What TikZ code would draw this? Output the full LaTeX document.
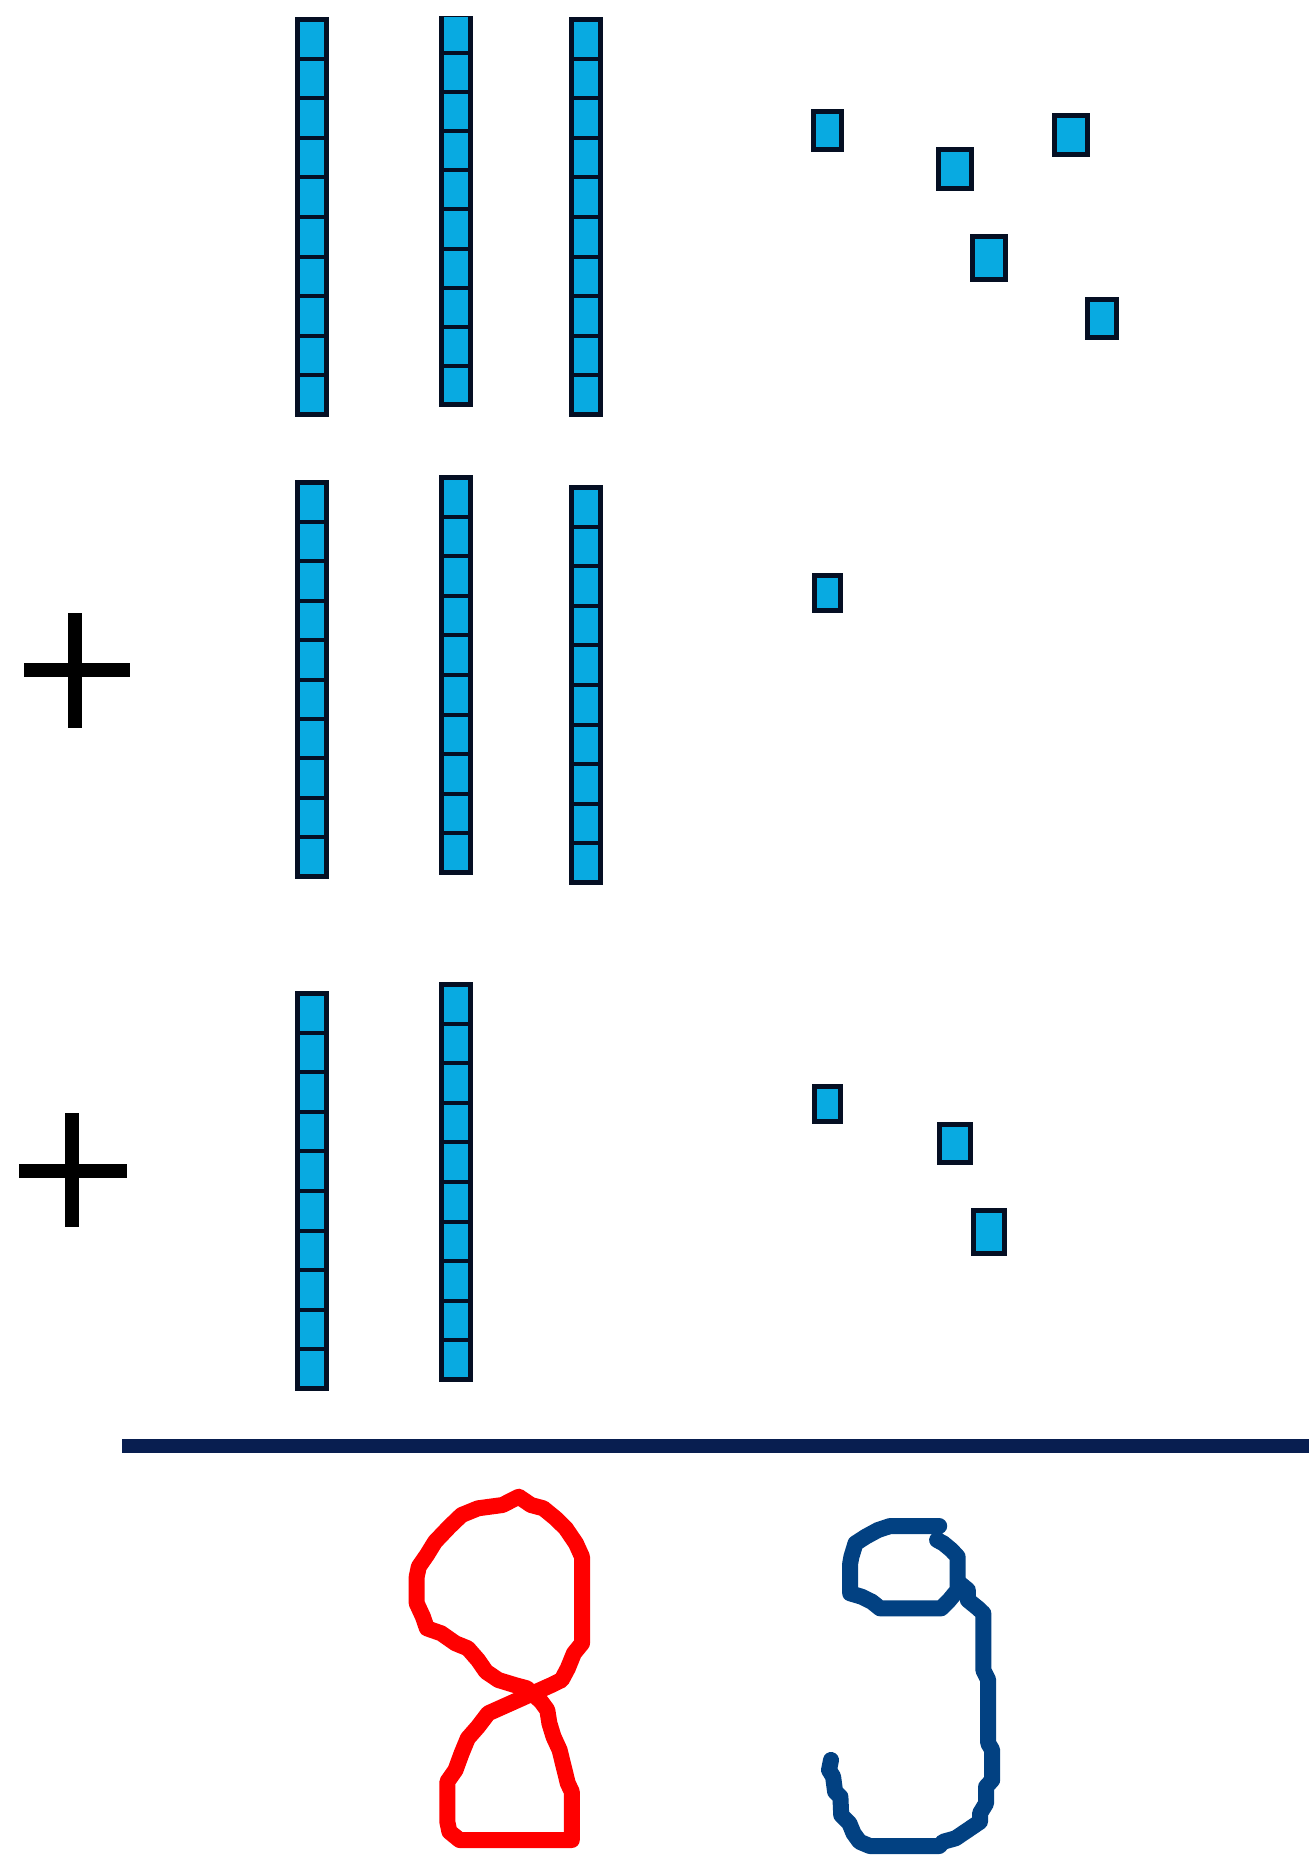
\documentclass[tikz,border=0pt]{standalone}
\definecolor{cubefill}{RGB}{8,170,225}
\definecolor{cubeedge}{RGB}{5,15,35}
\definecolor{rulenavy}{RGB}{8,30,80}
\definecolor{eightred}{RGB}{255,0,0}
\definecolor{nineblue}{RGB}{2,65,130}
\newcommand{\tenrod}[3]{%
  \draw[rodbox] (#1+2.4,#2+2.4) rectangle (#1+33.5-2.4,#3-2.4);
  \foreach \k in {1,...,9}{%
    \draw[rodsep] (#1+2.4,{#2+2.4+\k*(#3-#2-4.8)/10}) -- (#1+33.5-2.4,{#2+2.4+\k*(#3-#2-4.8)/10});}%
}
\newcommand{\unitblock}[4]{%
  \draw[unitcube] (#1+2.4,#2+2.4) rectangle (#3-2.4,#4-2.4);}
\begin{document}
\begin{tikzpicture}[x=0.5pt,y=-0.5pt,
  rodbox/.style={fill=cubefill,draw=cubeedge,line width=2.5pt},
  rodsep/.style={draw=cubeedge,line width=2pt},
  unitcube/.style={fill=cubefill,draw=cubeedge,line width=2.5pt},
  plusbar/.style={draw=black,line width=7pt},
  ruleline/.style={draw=rulenavy,line width=7pt},
  digitstroke/.style={line width=8pt,line cap=round,line join=round}]
\useasboundingbox[fill=white] (0,0) rectangle (1309,1855);

% first addend: 3 tens + 5 ones
\tenrod{295}{17}{417}
\begin{scope}
  \clip (0,17) rectangle (1309,1855);
  \tenrod{439}{12}{407}
\end{scope}
\tenrod{569}{17}{417}
\unitblock{811}{109}{844}{152}
\unitblock{936}{147}{974}{191}
\unitblock{1052}{113}{1090}{157}
\unitblock{970}{234}{1008}{282}
\unitblock{1085}{297}{1119}{340}

% second addend: 3 tens + 1 one
\coordinate (plusA) at (75,670);
\draw[plusbar] (24,670) -- (130,670);
\draw[plusbar] (75,613) -- (75,728);
\tenrod{295}{480}{879}
\tenrod{439}{475}{875}
\tenrod{569}{485}{885}
\unitblock{812}{573}{843}{613}

% third addend: 2 tens + 3 ones
\coordinate (plusB) at (72,1171);
\draw[plusbar] (19,1171) -- (127,1171);
\draw[plusbar] (72,1113) -- (72,1227);
\tenrod{295}{991}{1391}
\tenrod{439}{982}{1382}
\unitblock{812}{1084}{843}{1124}
\unitblock{937}{1122}{973}{1165}
\unitblock{971}{1208}{1007}{1256}

% sum rule
\coordinate (ruleL) at (122,1446);
\coordinate (ruleR) at (1309,1446);
\draw[ruleline] (ruleL) -- (ruleR);

% handwritten 8
\draw[digitstroke,draw=eightred]
  (518.8,1496.7) -- (502.4,1505) -- (478,1508.3) -- (461.6,1515) -- (449.4,1526.7)
  -- (435.1,1541.7) -- (426.9,1555) -- (418.8,1566.7) -- (416.7,1576.7) -- (416.7,1603.3)
  -- (422.9,1616.7) -- (426.9,1628.3) -- (441.2,1633.3) -- (455.5,1643.3) -- (467.8,1648.3)
  -- (478,1660) -- (486.1,1671.7) -- (498.4,1680) -- (514.7,1685) -- (526.9,1688.3)
  -- (541.2,1701.7) -- (547.3,1710) -- (549.4,1723.3) -- (553.5,1736.7) -- (559.6,1750)
  -- (563.7,1766.7) -- (567.8,1783.3) -- (571.8,1791.7) -- (571.8,1840) -- (459.6,1840)
  -- (449.4,1831.7) -- (447.3,1821.7) -- (447.3,1781.7) -- (455.5,1770) -- (461.6,1753.3)
  -- (467.8,1738.3) -- (478,1726.7) -- (488.2,1713.3) -- (551.4,1685) -- (561.6,1680)
  -- (567.8,1668.3) -- (573.9,1653.3) -- (582,1643.3) -- (582,1556.7) -- (575.9,1543.3)
  -- (565.7,1528.3) -- (555.5,1518.3) -- (543.3,1508.3) -- (531,1505) -- cycle;

% handwritten 9
\draw[digitstroke,draw=nineblue]
  (939.2,1526) -- (890.2,1526) -- (878,1530) -- (865.7,1536.7) -- (855.5,1543.3)
  -- (851.4,1556.7) -- (850.2,1563.3) -- (850.2,1593.3) -- (861.6,1596.7) -- (871.8,1601.7)
  -- (880,1608.3) -- (941.2,1608.3) -- (949.4,1600) -- (957.6,1590) -- (957.6,1556.7)
  -- (951.4,1550) -- (943.3,1543.3) -- (937.1,1540);
\draw[digitstroke,draw=nineblue]
  (959.6,1583.3) -- (967.8,1590) -- (967.8,1600) -- (978,1608.3) -- (983.3,1613.3)
  -- (983.3,1670) -- (988.2,1680) -- (988.2,1743.3) -- (992.2,1750) -- (992.2,1780)
  -- (986.1,1786.7) -- (986.1,1803.3) -- (980,1813.3) -- (980,1821.7) -- (967.8,1830)
  -- (955.5,1838.3) -- (943.3,1841.7) -- (939.2,1846) -- (869.8,1846) -- (859.6,1841.7)
  -- (853.5,1833.3) -- (849.4,1823.3) -- (841.2,1815) -- (840.4,1796.7) -- (835.1,1791.7)
  -- (833.1,1776.7) -- (829,1770) -- (831,1760);
\end{tikzpicture}
\end{document}
